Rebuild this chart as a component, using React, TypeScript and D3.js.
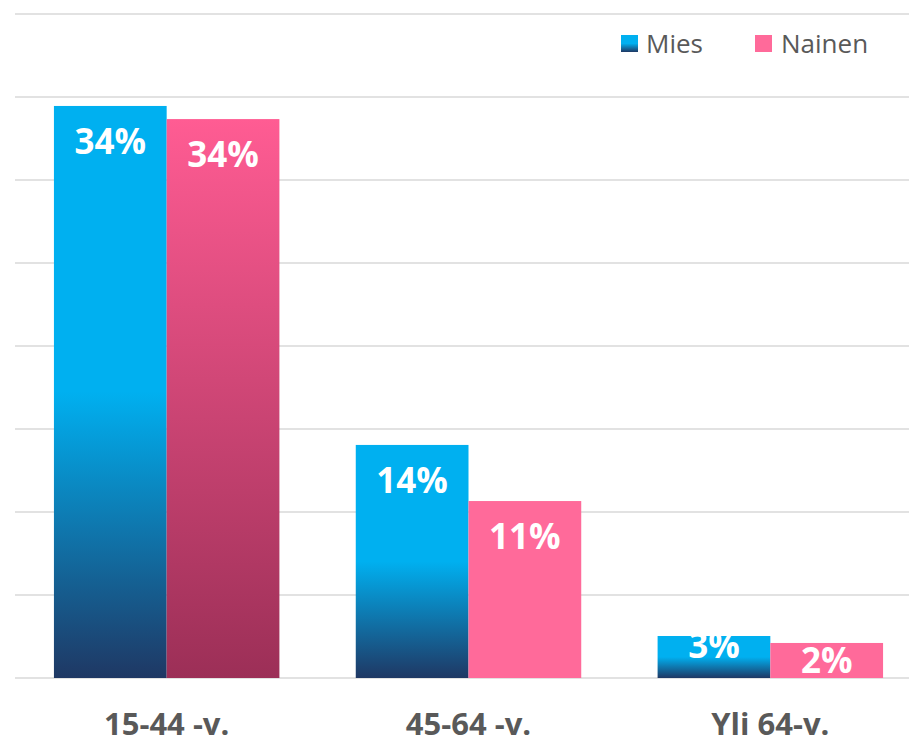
import React from "react";
import * as d3 from "d3";

const categories = ["15-44 -v.", "45-64 -v.", "Yli 64-v."];
const seriesNames = ["Mies", "Nainen"];
const miesValues = [34.46, 14.04, 2.53];
const nainenValues = [33.67, 10.66, 2.11];
const valueLabels = [
  ["34%", "14%", "3%"],
  ["34%", "11%", "2%"],
];
const yTicks = [0, 5, 10, 15, 20, 25, 30, 35, 40];

const W = 909;
const H = 739;

export default function App() {
  const x = d3
    .scaleBand<string>()
    .domain(categories)
    .range([15, 922])
    .paddingInner(0.253)
    .paddingOuter(0.129);
  const xs = d3
    .scaleBand<string>()
    .domain(seriesNames)
    .range([0, x.bandwidth()]);
  const y = d3.scaleLinear().domain([0, 40]).range([678, 14]);

  const series = [miesValues, nainenValues];

  const fillFor = (s: number, i: number) => {
    if (s === 0) return "url(#miesGrad)";
    if (i === 0) return "url(#nainenGrad)";
    return "#FF6A9A";
  };

  return (
    <svg
      width={W}
      height={H}
      style={{ position: "absolute", left: 0, top: 0 }}
      fontFamily="'Open Sans', sans-serif"
    >
      <defs>
        <linearGradient id="miesGrad" x1="0" y1="0" x2="0" y2="1">
          <stop offset="0" stopColor="#00B0F0" />
          <stop offset="0.5" stopColor="#00B0F0" />
          <stop offset="1" stopColor="#1F3864" />
        </linearGradient>
        <linearGradient id="nainenGrad" x1="0" y1="0" x2="0" y2="1">
          <stop offset="0" stopColor="#FF5C93" />
          <stop offset="1" stopColor="#9C2F57" />
        </linearGradient>
      </defs>
      <rect x={0} y={0} width={W} height={H} fill="#ffffff" />
      {yTicks.map((t) => (
        <line
          key={t}
          x1={15}
          x2={W}
          y1={y(t)}
          y2={y(t)}
          stroke="#D9D9D9"
          strokeWidth={1.5}
        />
      ))}
      {categories.map((c, i) => (
        <g key={c}>
          {series.map((vals, s) => {
            const bx = (x(c) as number) + (xs(seriesNames[s]) as number);
            const bw = xs.bandwidth();
            const top = y(vals[i]);
            const h = y(0) - top;
            let base: number;
            if (h > 100) base = top + 48;
            else base = top + h / 2 + 12.5 - (s === 0 ? 12 : 0);
            return (
              <g key={s}>
                <rect x={bx} y={top} width={bw} height={h} fill={fillFor(s, i)} />
                <text
                  x={bx + bw / 2}
                  y={base}
                  textAnchor="middle"
                  fill="#ffffff"
                  fontWeight={700}
                  fontSize={35}
                >
                  {valueLabels[s][i]}
                </text>
              </g>
            );
          })}
          <text
            x={(x(c) as number) + x.bandwidth() / 2}
            y={735}
            textAnchor="middle"
            fill="#595959"
            fontWeight={700}
            fontSize={31}
          >
            {c}
          </text>
        </g>
      ))}
      <g>
        <rect x={621} y={35} width={17} height={17} fill="url(#miesGrad)" />
        <text x={646} y={52.5} fill="#595959" fontSize={26}>
          {seriesNames[0]}
        </text>
        <rect x={755} y={35} width={17} height={17} fill="#FF6A9A" />
        <text x={781} y={52.5} fill="#595959" fontSize={26}>
          {seriesNames[1]}
        </text>
      </g>
    </svg>
  );
}
